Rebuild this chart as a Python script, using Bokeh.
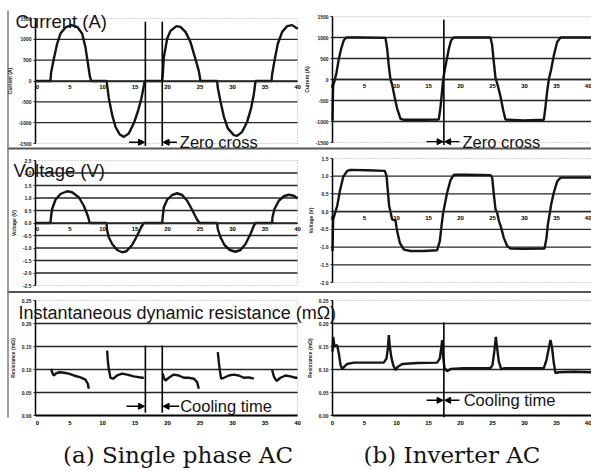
from bokeh.plotting import figure
from bokeh.models import (Range1d, FixedTicker, Label, Arrow, NormalHead, LinearAxis)
from bokeh.embed import file_html
from bokeh.resources import INLINE

NAN = float("nan")

# ---------------- data ----------------
x_ticks = [0, 5, 10, 15, 20, 25, 30, 35, 40]
x_tick_labels = ["0", "5", "10", "15", "20", "25", "30", "35", "40"]

cur_ticks = [-1500, -1000, -500, 0, 500, 1000, 1500]
cur_labels = ["-1500", "-1000", "-500", "0", "500", "1000", "1500"]
volt_a_ticks = [-2.5, -2.0, -1.5, -1.0, -0.5, 0.0, 0.5, 1.0, 1.5, 2.0, 2.5]
volt_a_labels = ["-2.5", "-2.0", "-1.5", "-1.0", "-0.5", "0.0", "0.5", "1.0", "1.5", "2.0", "2.5"]
volt_b_ticks = [-2.0, -1.5, -1.0, -0.5, 0.0, 0.5, 1.0, 1.5]
volt_b_labels = ["-2.0", "-1.5", "-1.0", "-0.5", "0.0", "0.5", "1.0", "1.5"]
res_ticks = [0.0, 0.05, 0.1, 0.15, 0.2, 0.25]
res_labels = ["0.00", "0.05", "0.10", "0.15", "0.20", "0.25"]

# (a) single phase AC, time in ms
cur_a_t = [-0.3, 2.0, 2.1, 2.51, 3.03, 3.54, 4.31, 5.23, 6.10, 6.87, 7.38, 7.74, 8.05, 8.26,
           10.62, 10.7, 10.97, 11.49, 12.0, 12.67, 13.28, 14.05, 14.82, 15.44, 15.95, 16.36, 16.51,
           19.18, 19.28, 19.44, 19.95, 20.46, 21.38, 22.0, 22.77, 23.54, 24.15, 24.82, 25.08,
           27.64, 27.74, 28.15, 28.67, 29.28, 30.21, 30.72, 31.49, 32.26, 32.87, 33.28, 33.54,
           36.0, 36.10, 36.46, 36.97, 37.64, 38.41, 39.18, 39.95, 40.0]
cur_a_i = [0, 0, 203, 528, 894, 1138, 1285, 1341, 1300, 1138, 813, 447, 122, 0,
           0, -81, -407, -813, -1098, -1285, -1341, -1260, -1016, -732, -447, -122, 0,
           0, 163, 569, 1016, 1203, 1317, 1300, 1179, 935, 610, 244, 0,
           0, -163, -488, -854, -1138, -1300, -1317, -1220, -976, -650, -325, 0,
           0, 163, 488, 894, 1179, 1317, 1341, 1260, 1250]

volt_a_t = [-0.3, 2.0, 2.1, 2.26, 2.77, 3.54, 4.56, 5.33, 6.36, 7.13, 7.74, 8.05,
            10.62, 10.7, 10.97, 11.49, 12.26, 13.03, 13.69, 14.56, 15.33, 15.95, 16.36,
            19.18, 19.28, 19.44, 19.95, 20.72, 21.49, 22.26, 23.03, 23.79, 24.56, 24.97,
            27.64, 27.74, 28.15, 28.77, 29.59, 30.46, 31.23, 32.0, 32.77, 33.28, 33.54,
            36.10, 36.15, 36.46, 37.13, 37.9, 38.67, 39.44, 40.0]
volt_a_v = [0, 0, 0.27, 0.56, 0.93, 1.16, 1.27, 1.23, 1.03, 0.69, 0.29, 0,
            0, -0.27, -0.57, -0.84, -1.08, -1.17, -1.13, -0.88, -0.51, -0.17, 0,
            0, 0.27, 0.63, 0.93, 1.12, 1.19, 1.12, 0.89, 0.53, 0.13, 0,
            0, -0.24, -0.57, -0.88, -1.08, -1.15, -1.08, -0.84, -0.44, -0.11, 0,
            0, 0.23, 0.56, 0.89, 1.07, 1.13, 1.09, 0.98]

res_a_t = [2.10, 2.26, 2.51, 2.92, 3.44, 4.05, 4.82, 5.59, 6.62, 7.38, 7.74, 7.90, NAN,
           10.72, 10.82, 10.97, 11.23, 11.64, 12.26, 13.03, 13.79, 14.82, 16.10, 16.36, NAN,
           19.28, 19.44, 19.69, 20.21, 20.97, 21.74, 22.51, 23.28, 24.05, 24.56, 24.82, NAN,
           27.74, 27.90, 28.05, 28.26, 28.67, 29.44, 30.21, 30.97, 31.74, 32.51, 33.28, NAN,
           36.10, 36.36, 36.77, 37.38, 38.15, 38.92, 39.69, 40.0]
res_a_r = [0.1015, 0.094, 0.087, 0.092, 0.094, 0.093, 0.091, 0.087, 0.083, 0.078, 0.069, 0.058, NAN,
           0.141, 0.120, 0.1015, 0.082, 0.080, 0.087, 0.091, 0.089, 0.085, 0.082, 0.082, NAN,
           0.091, 0.082, 0.076, 0.082, 0.089, 0.087, 0.082, 0.082, 0.080, 0.0725, 0.058, NAN,
           0.138, 0.116, 0.098, 0.080, 0.082, 0.087, 0.089, 0.087, 0.082, 0.083, 0.080, NAN,
           0.099, 0.085, 0.075, 0.082, 0.087, 0.085, 0.082, 0.082]

# (b) inverter AC, time in ms
cur_b_t = [0.0, 0.05, 0.1, 0.31, 0.62, 0.99, 1.35, 1.77, 2.19, 3.85,
           8.28, 8.54, 8.80, 9.06, 9.32, 9.69, 10.1, 10.63, 11.15, 14.27,
           16.61, 16.88, 17.14, 17.29, 17.5, 17.81, 18.18, 18.54, 18.96, 24.69,
           24.95, 25.21, 25.47, 25.83, 26.25, 26.67, 27.03, 29.9, 33.02, 33.28,
           33.54, 33.8, 34.17, 34.58, 35.1, 35.63, 40.47]
cur_b_i = [-976, -488, -146, -41, 163, 488, 732, 935, 1000, 1000,
           992, 732, 325, 0, -122, -407, -691, -935, -959, -959,
           -951, -650, -244, 0, 203, 447, 732, 935, 1000, 1000,
           813, 407, 41, -146, -407, -732, -951, -976, -959, -650,
           -285, 0, 244, 569, 894, 1000, 1000]

volt_b_t = [0.0, 0.05, 0.1, 0.73, 1.15, 1.67, 2.29, 2.81, 5.42, 8.18,
            8.44, 8.65, 8.85, 9.06, 9.32, 9.84, 10.10, 10.52, 11.15, 12.19,
            14.27, 16.35, 16.77, 17.03, 17.29, 17.5, 17.92, 18.44, 18.96, 21.04,
            24.69, 24.95, 25.21, 25.47, 25.73, 25.99, 26.35, 26.77, 27.29, 27.81,
            29.9, 33.13, 33.44, 33.65, 33.96, 34.17, 34.58, 35.1, 35.63, 38.23, 40.47]
volt_b_v = [-1.11, -0.64, -0.22, 0.16, 0.58, 0.98, 1.15, 1.18, 1.17, 1.15,
            1.01, 0.58, 0.16, 0.0, -0.22, -0.25, -0.55, -0.88, -1.07, -1.11,
            -1.11, -1.09, -0.83, -0.41, -0.03, 0.16, 0.54, 0.89, 1.04, 1.04,
            1.03, 0.96, 0.49, 0.07, -0.03, -0.25, -0.45, -0.74, -0.97, -1.04,
            -1.05, -1.04, -0.74, -0.36, -0.03, 0.21, 0.54, 0.85, 0.96, 0.96, 0.96]

res_b_t = [0.0, 0.10, 0.31, 0.73, 0.99, 1.25, 1.51, 1.77, 2.29, 3.33, 5.42, 8.02,
           8.44, 8.65, 8.80, 8.96, 9.17, 9.48, 9.84, 10.21, 10.89, 13.23, 16.35,
           16.77, 16.98, 17.14, 17.29, 17.50, 17.92, 18.44, 20.52, 24.69,
           25.00, 25.31, 25.52, 25.73, 25.99, 26.35, 27.03, 29.90, 33.02,
           33.44, 33.80, 34.06, 34.32, 34.58, 34.84, 35.36, 37.71, 40.47]
res_b_r = [0.139, 0.171, 0.150, 0.153, 0.135, 0.110, 0.101, 0.105, 0.112, 0.115, 0.115, 0.115,
           0.124, 0.146, 0.175, 0.150, 0.128, 0.110, 0.099, 0.106, 0.112, 0.114, 0.115,
           0.124, 0.146, 0.164, 0.128, 0.103, 0.096, 0.101, 0.103, 0.103,
           0.110, 0.142, 0.171, 0.146, 0.117, 0.101, 0.103, 0.103, 0.103,
           0.121, 0.146, 0.164, 0.146, 0.114, 0.092, 0.094, 0.095, 0.094]

zero_cross_a = [16.6, 19.2]   # ms
zero_cross_b = [17.4]         # ms

# ---------------- layout (canvas pixels) ----------------
W, H = 591, 471
SANS = "Liberation Sans"
INK = "#141414"
GRID = "#262626"

# x geometry: (data start, data end, pixel start, pixel end)
XA = (-0.3, 40.0, 35, 297)
XB = (0.0, 40.47, 332, 591)
# y geometry: (data min, data max, pixel of min, pixel of max)
GEOM = {
    "a1": (-1500, 1500, 143, 18), "b1": (-1500, 1500, 142, 16),
    "a2": (-2.5, 2.5, 285, 160), "b2": (-2.0, 1.5, 282, 158),
    "a3": (0.0, 0.25, 415, 300), "b3": (0.0, 0.25, 415, 300),
}


def x_extra(g):
    d0, d1, p0, p1 = g
    s = (d1 - d0) / (p1 - p0)
    return Range1d(start=d0 - p0 * s, end=d0 + (W - p0) * s)


def y_extra(g):
    d0, d1, py0, py1 = g
    q0, q1 = H - py0, H - py1
    s = (d1 - d0) / (q1 - q0)
    return Range1d(start=d0 - q0 * s, end=d0 + (H - q0) * s)


p = figure(width=W, height=H, x_range=Range1d(0, W), y_range=Range1d(H, 0),
           x_axis_location=None, y_axis_location=None, toolbar_location=None,
           output_backend="svg", min_border=0)
p.grid.visible = False
p.outline_line_color = None
p.background_fill_color = "white"
p.border_fill_color = "white"
p.extra_x_ranges = {"xa": x_extra(XA), "xb": x_extra(XB)}
p.extra_y_ranges = {k: y_extra(v) for k, v in GEOM.items()}


def panel(key, xg, y_ticks, y_labels, grid_ticks, y_title, bottom_axis):
    xn = "xa" if key[0] == "a" else "xb"
    yg = GEOM[key]
    rk = dict(x_range_name=xn, y_range_name=key)
    x0, x1 = xg[0], xg[1]
    # plot-area border (dotted, light)
    p.quad(left=[x0], right=[x1], bottom=[yg[0]], top=[yg[1]], fill_color=None,
           line_color="#a8a8a8", line_dash="1 2", line_width=1, **rk)
    # horizontal grid lines
    n = len(grid_ticks)
    p.segment(x0=[x0] * n, x1=[x1] * n, y0=grid_ticks, y1=grid_ticks,
              line_color=GRID, line_width=1.3, **rk)
    ya = LinearAxis(fixed_location=x0, bounds=(yg[0], yg[1]),
                    ticker=FixedTicker(ticks=y_ticks),
                    major_label_overrides=dict(zip(y_ticks, y_labels)), **rk)
    ya.major_label_text_font = SANS
    ya.major_label_text_font_size = "5px"
    ya.major_label_text_font_style = "bold"
    ya.major_label_text_color = "#1a1a1a"
    ya.major_label_standoff = 2
    ya.major_tick_in = 0
    ya.major_tick_out = 2
    ya.major_tick_line_color = "#222222"
    ya.minor_tick_line_color = None
    ya.axis_line_color = "black"
    ya.axis_line_width = 1.5
    ya.axis_label = y_title
    ya.axis_label_text_font = SANS
    ya.axis_label_text_font_size = "5px"
    ya.axis_label_text_font_style = "bold"
    ya.axis_label_text_color = "#222222"
    ya.axis_label_standoff = 3
    p.add_layout(ya, "left")
    xa = LinearAxis(fixed_location=0, bounds=(x0, x1), ticker=FixedTicker(ticks=x_ticks),
                    major_label_overrides=dict(zip(x_ticks, x_tick_labels)), **rk)
    xa.major_label_text_font = SANS
    xa.major_label_text_font_size = "6px"
    xa.major_label_text_font_style = "bold"
    xa.major_label_text_color = "#000000"
    xa.major_label_standoff = 5 if bottom_axis else 4
    xa.major_tick_in = 0
    xa.major_tick_out = 0
    xa.minor_tick_line_color = None
    xa.axis_line_color = "black" if bottom_axis else GRID
    xa.axis_line_width = 2 if bottom_axis else 1.3
    p.add_layout(xa, "below")
    return rk


def marker(rk, x_left, x_right, y, arrow_len, text, text_dx):
    head = dict(size=6, line_color="black", fill_color="black")
    p.add_layout(Arrow(end=NormalHead(**head), x_start=x_left - arrow_len, y_start=y,
                       x_end=x_left - 0.12, y_end=y, line_color="black", line_width=1.4, **rk))
    p.add_layout(Arrow(end=NormalHead(**head), x_start=x_right + arrow_len * 0.9, y_start=y,
                       x_end=x_right + 0.12, y_end=y, line_color="black", line_width=1.4, **rk))
    p.add_layout(Label(x=x_right + text_dx, y=y, text=text, text_font=SANS,
                       text_font_size="16.5px", text_color=INK, text_align="left",
                       text_baseline="middle", **rk))


LW = 2.4

# ---- row 1: current ----
rk = panel("a1", XA, cur_ticks, cur_labels, cur_ticks[1:-1], "Current (A)", False)
p.line(cur_a_t, cur_a_i, line_color=INK, line_width=LW, **rk)
p.segment(x0=zero_cross_a, x1=zero_cross_a, y0=[-1560] * 2, y1=[1420] * 2,
          line_color="black", line_width=1.6, **rk)
marker(rk, zero_cross_a[0], zero_cross_a[1], -1470, 2.5, "Zero cross", 2.7)

rk = panel("b1", XB, cur_ticks, cur_labels, cur_ticks[1:-1], "Current (A)", False)
p.line(cur_b_t, cur_b_i, line_color=INK, line_width=LW, **rk)
p.segment(x0=zero_cross_b, x1=zero_cross_b, y0=[-1560], y1=[1420],
          line_color="black", line_width=1.6, **rk)
marker(rk, zero_cross_b[0], zero_cross_b[0], -1480, 2.7, "Zero cross", 2.9)

# ---- row 2: voltage ----
rk = panel("a2", XA, volt_a_ticks, volt_a_labels, volt_a_ticks[1:-1], "Voltage (V)", False)
p.line(volt_a_t, volt_a_v, line_color=INK, line_width=LW, **rk)

rk = panel("b2", XB, volt_b_ticks, volt_b_labels, volt_b_ticks[1:-1], "Voltage (V)", False)
p.line(volt_b_t, volt_b_v, line_color=INK, line_width=LW, **rk)

# ---- row 3: resistance ----
rk = panel("a3", XA, res_ticks, res_labels, res_ticks[1:-1], "Resistance (m\u03a9)", True)
p.line(res_a_t, res_a_r, line_color=INK, line_width=LW, **rk)
p.segment(x0=zero_cross_a, x1=zero_cross_a, y0=[0.006] * 2, y1=[0.152] * 2,
          line_color="black", line_width=1.6, **rk)
marker(rk, zero_cross_a[0], zero_cross_a[1], 0.02, 2.9, "Cooling time", 2.75)

rk = panel("b3", XB, res_ticks, res_labels, res_ticks[1:-1], "Resistance (m\u03a9)", True)
p.line(res_b_t, res_b_r, line_color=INK, line_width=LW, **rk)
p.segment(x0=zero_cross_b, x1=zero_cross_b, y0=[-0.004], y1=[0.202],
          line_color="black", line_width=1.6, **rk)
marker(rk, zero_cross_b[0], zero_cross_b[0], 0.033, 2.7, "Cooling time", 3.1)

# ---- figure frame rules (canvas pixels) ----
p.segment(x0=[7, 7], x1=[W, W], y0=[148, 291.5], y1=[148, 291.5],
          line_color="#555555", line_width=2)
p.segment(x0=[7.5], x1=[7.5], y0=[10], y1=[417], line_color="#7a7a7a", line_width=1.5)


# ---- titles and captions (canvas pixels, vertical centre of capitals) ----
def title(x, y, text, size, font=SANS, align="left"):
    p.add_layout(Label(x=x, y=y, text=text, text_font=font, text_font_size=size,
                       text_color=INK, text_align=align, text_baseline="middle"))


title(15, 21, "Current (A)", "18.5px")
title(13, 170, "Voltage (V)", "18.5px")
title(18, 312.5, "Instantaneous dynamic resistance (m\u03a9)", "18px")
title(177.5, 454, "(a) Single phase AC", "23px", "DejaVu Serif", "center")
title(451.5, 454, "(b) Inverter AC", "23px", "DejaVu Serif", "center")

open("out.html", "w").write(file_html(p, INLINE))
